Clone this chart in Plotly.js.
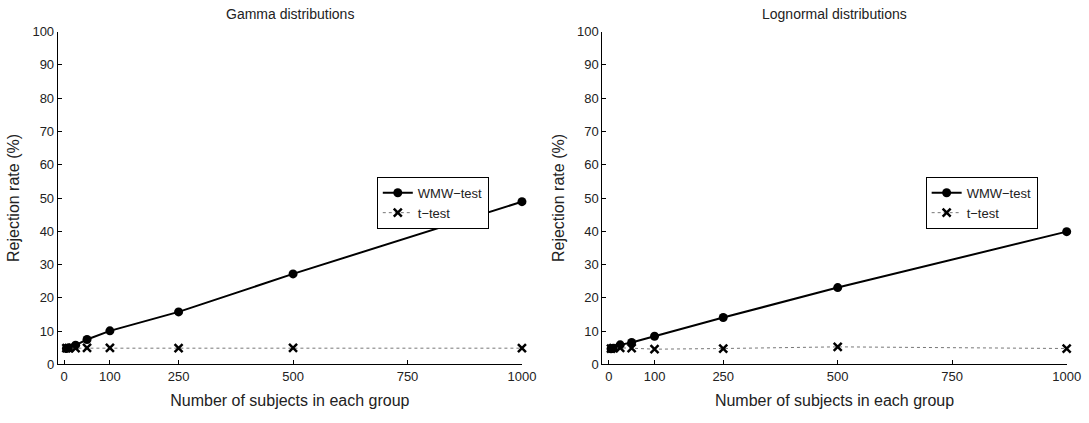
<!DOCTYPE html>
<html>
<head>
<meta charset="utf-8">
<script src="https://cdn.plot.ly/plotly-3.0.1.min.js"></script>
<style>html,body{margin:0;padding:0;background:#fff;}#chart{width:1089px;height:423px;}</style>
</head>
<body>
<div id="chart"></div>
<script>
// Data
const sampleSizes = [5, 10, 25, 50, 100, 250, 500, 1000];
const gammaWMW = [4.8, 5.0, 5.8, 7.5, 10.1, 15.8, 27.2, 48.9];
const gammaT   = [4.9, 4.9, 4.9, 5.0, 5.0, 4.9, 5.0, 4.9];
const lognWMW  = [4.7, 4.9, 5.9, 6.6, 8.5, 14.1, 23.1, 39.9];
const lognT    = [4.8, 4.9, 5.0, 4.9, 4.6, 4.8, 5.3, 4.8];
const xTicks = [0, 100, 250, 500, 750, 1000];
const yTicks = [0, 10, 20, 30, 40, 50, 60, 70, 80, 90, 100];
const panelTitles = ["Gamma distributions", "Lognormal distributions"];
const seriesNames = ["WMW\u2212test", "t\u2212test"];

const font = "Liberation Sans, Arial, sans-serif";
const wmwStyle = {mode: "lines+markers", cliponaxis: false, line: {color: "#000", width: 2},
  marker: {symbol: "circle", size: 9, color: "#000"}};
const tStyle = {mode: "lines+markers", cliponaxis: false, line: {color: "#777", width: 1, dash: "dot"},
  marker: {symbol: "x-thin", size: 8, color: "#000", line: {color: "#000", width: 2.5}}};

const traces = [
  Object.assign({x: sampleSizes, y: gammaWMW, name: seriesNames[0], xaxis: "x", yaxis: "y", legend: "legend"}, wmwStyle),
  Object.assign({x: sampleSizes, y: gammaT, name: seriesNames[1], xaxis: "x", yaxis: "y", legend: "legend"}, tStyle),
  Object.assign({x: sampleSizes, y: lognWMW, name: seriesNames[0], xaxis: "x2", yaxis: "y2", legend: "legend2"}, wmwStyle),
  Object.assign({x: sampleSizes, y: lognT, name: seriesNames[1], xaxis: "x2", yaxis: "y2", legend: "legend2"}, tStyle)
];

function xAxis(domain, anchor) {
  return {domain: domain, anchor: anchor, range: [-14, 1000], tickvals: xTicks,
    ticktext: xTicks.map(String), ticks: "inside", ticklen: 4, tickcolor: "#000",
    showline: true, linecolor: "#000", linewidth: 1, showgrid: false, zeroline: false,
    tickfont: {family: font, size: 13, color: "#222"},
    title: {text: "Number of subjects in each group", font: {family: font, size: 16, color: "#222"}, standoff: 11},
    automargin: false, fixedrange: true};
}
function yAxis(anchor) {
  return {domain: [0.1383, 0.9255], anchor: anchor, range: [0, 100], tickvals: yTicks,
    ticktext: yTicks.map(String), ticks: "inside", ticklen: 4, tickcolor: "#000",
    showline: true, linecolor: "#000", linewidth: 1, showgrid: false, zeroline: false,
    tickfont: {family: font, size: 13, color: "#222"},
    title: {text: "Rejection rate (%)", font: {family: font, size: 16, color: "#222"}, standoff: 8},
    automargin: false, fixedrange: true};
}
function legendBox(x) {
  return {x: x, y: 0.582, xanchor: "left", yanchor: "top", bgcolor: "#fff",
    bordercolor: "#000", borderwidth: 1, font: {family: font, size: 13, color: "#222"},
    tracegroupgap: 0, itemwidth: 30};
}

const layout = {
  width: 1089, height: 423,
  margin: {l: 0, r: 0, t: 0, b: 0},
  paper_bgcolor: "#fff", plot_bgcolor: "#fff",
  showlegend: true,
  xaxis: xAxis([0.053, 0.4793], "y"),
  yaxis: yAxis("x"),
  xaxis2: xAxis([0.5531, 0.9795], "y2"),
  yaxis2: yAxis("x2"),
  legend: legendBox(0.346),
  legend2: legendBox(0.850),
  annotations: [
    {text: panelTitles[0], xref: "x domain", yref: "paper", x: 0.5, y: 1 - 14/423, xanchor: "center", yanchor: "middle", showarrow: false, font: {family: font, size: 14, color: "#222"}},
    {text: panelTitles[1], xref: "x2 domain", yref: "paper", x: 0.5, y: 1 - 14/423, xanchor: "center", yanchor: "middle", showarrow: false, font: {family: font, size: 14, color: "#222"}}
  ]
};

Plotly.newPlot("chart", traces, layout, {displayModeBar: false, staticPlot: true});
</script>
</body>
</html>
